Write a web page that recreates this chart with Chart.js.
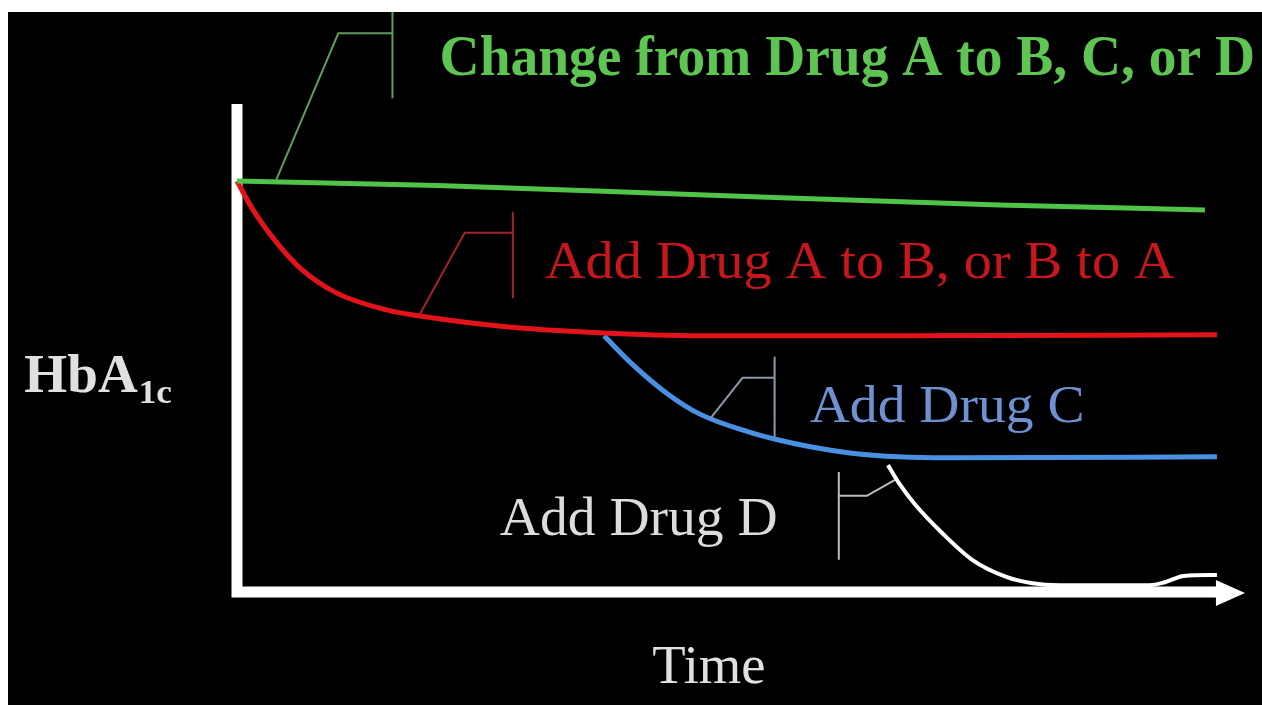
<!DOCTYPE html>
<html>
<head>
<meta charset="utf-8">
<script src="https://cdn.jsdelivr.net/npm/chart.js"></script>
<style>
  html, body { margin: 0; padding: 0; background: #fff; overflow: hidden; }
  #wrap { position: absolute; left: 8px; top: 12px; width: 1254px; height: 693px; background: #000; }
</style>
</head>
<body>
<div id="wrap"><canvas id="chart"></canvas></div>
<script>
// time runs 0..100 along the x axis, HbA1c 0..100 up the y axis (arbitrary units)
const changeTime = [0, 20, 46, 76, 96.5];
const changeHbA1c = [84.2, 83.3, 81.4, 79.3, 78.3];

const addABTime = [0, 1.6, 4.0, 6.5, 9.9, 14.9, 18.1, 26.1, 36.1, 46.1, 66.0, 97.7];
const addABHbA1c = [84.2, 78.3, 71.5, 66.0, 61.3, 57.8, 56.6, 54.5, 53.1, 52.5, 52.5, 52.7];

const addCTime = [36.6, 39.4, 42.8, 46.1, 51.0, 53.5, 57.3, 61.1, 66.0, 71.0, 97.7];
const addCHbA1c = [52.5, 46.7, 40.8, 36.5, 32.8, 31.4, 29.7, 28.5, 27.7, 27.5, 27.7];

const addDTime = [64.9, 66.0, 67.5, 70.3, 73.3, 76.7, 79.3, 82.0, 91.0, 92.5, 94.4, 97.7];
const addDHbA1c = [26.0, 22.3, 18.2, 12.1, 6.6, 3.1, 1.8, 1.4, 1.4, 2.0, 3.3, 3.5];

// callout brackets: diagonal, short horizontal, then the vertical bar
const changeLeaderTime = [3.9, 10.1, 15.5, 15.5, 15.5];
const changeLeaderHbA1c = [84.4, 114.5, 114.5, 118.9, 101.2];
const addABLeaderTime = [18.2, 22.7, 27.5, 27.5, 27.5];
const addABLeaderHbA1c = [56.8, 73.6, 73.6, 77.9, 60.2];
const addCLeaderTime = [47.2, 50.4, 53.6, 53.6, 53.6];
const addCLeaderHbA1c = [35.6, 43.9, 43.9, 48.2, 31.8];
const addDLeaderTime = [65.6, 62.8, 60.0, 60.0, 60.0];
const addDLeaderHbA1c = [23.0, 19.7, 19.7, 24.6, 6.6];

const seriesLabels = ['Change from Drug A to B, C, or D', 'Add Drug A to B, or B to A', 'Add Drug C', 'Add Drug D'];
const xTitle = 'Time';
const yTitle = 'HbA';
const ySub = '1c';

const SERIF = '"Liberation Serif", "Times New Roman", serif';

function pts(xs, ys) {
  return xs.map((x, i) => ({ x: x, y: ys[i] }));
}

function curve(label, xs, ys, color, width) {
  return {
    label: label,
    data: pts(xs, ys),
    borderColor: color,
    borderWidth: width,
    pointRadius: 0,
    cubicInterpolationMode: 'monotone',
    fill: false,
    clip: false
  };
}

function leader(xs, ys, color) {
  return {
    label: 'leader',
    data: pts(xs, ys),
    borderColor: color,
    borderWidth: 2,
    pointRadius: 0,
    tension: 0,
    fill: false,
    clip: false
  };
}

// text placed in axis units: left edge, right edge, baseline
const textMarks = [
  { text: seriesLabels[0], x0: 20.2, x1: 101.5, y: 106.0, font: 'bold 56px ' + SERIF, color: '#5ec553' },
  { text: seriesLabels[1], x0: 30.7, x1: 93.5, y: 64.3, font: '52px ' + SERIF, color: '#c8161d' },
  { text: seriesLabels[2], x0: 57.1, x1: 84.5, y: 34.8, font: '52px ' + SERIF, color: '#6f91d2' },
  { text: seriesLabels[3], x0: 26.2, x1: 53.9, y: 11.7, font: '54px ' + SERIF, color: '#dcdcdc' },
  { text: xTitle, x0: 41.4, x1: 52.7, y: -18.6, font: '55px ' + SERIF, color: '#e0e0e0' },
  { text: yTitle, x0: -21.2, x1: -9.9, y: 41.0, font: 'bold 54px ' + SERIF, color: '#e0e0e0' },
  { text: ySub, x0: -9.8, x1: -6.5, y: 38.7, font: 'bold 34px ' + SERIF, color: '#e0e0e0' }
];

const axesPlugin = {
  id: 'axes',
  beforeDatasetsDraw(chart) {
    const ctx = chart.ctx;
    const xs = chart.scales.x, ys = chart.scales.y;
    const x0 = xs.getPixelForValue(0);
    const y0 = ys.getPixelForValue(0);
    const yTop = ys.getPixelForValue(100);
    const xEnd = xs.getPixelForValue(97.8);
    const xTip = xs.getPixelForValue(100.5);
    ctx.save();
    ctx.strokeStyle = '#fff';
    ctx.fillStyle = '#fff';
    ctx.lineWidth = 11;
    ctx.lineCap = 'butt';
    ctx.beginPath();
    ctx.moveTo(x0, yTop);
    ctx.lineTo(x0, y0 + 5.5);
    ctx.moveTo(x0 - 5.5, y0);
    ctx.lineTo(xEnd, y0);
    ctx.stroke();
    ctx.beginPath();
    ctx.moveTo(xEnd - 2, y0 - 12);
    ctx.lineTo(xTip, y0 + 1);
    ctx.lineTo(xEnd - 2, y0 + 14);
    ctx.closePath();
    ctx.fill();
    ctx.restore();
  }
};

const textPlugin = {
  id: 'texts',
  afterDatasetsDraw(chart) {
    const ctx = chart.ctx;
    const xs = chart.scales.x, ys = chart.scales.y;
    textMarks.forEach(m => {
      const left = xs.getPixelForValue(m.x0);
      const right = xs.getPixelForValue(m.x1);
      const base = ys.getPixelForValue(m.y);
      ctx.save();
      ctx.font = m.font;
      ctx.fillStyle = m.color;
      ctx.textBaseline = 'alphabetic';
      ctx.textAlign = 'left';
      const w = ctx.measureText(m.text).width;
      ctx.translate(left, base);
      ctx.scale((right - left) / w, 1);
      ctx.fillText(m.text, 0, 0);
      ctx.restore();
    });
  }
};

new Chart(document.getElementById('chart'), {
  type: 'line',
  data: {
    datasets: [
      leader(changeLeaderTime, changeLeaderHbA1c, '#5e9e5c'),
      leader(addABLeaderTime, addABLeaderHbA1c, '#a2232b'),
      leader(addCLeaderTime, addCLeaderHbA1c, '#8b97a8'),
      leader(addDLeaderTime, addDLeaderHbA1c, '#bcbcbc'),
      curve(seriesLabels[0], changeTime, changeHbA1c, '#4fc449', 5),
      curve(seriesLabels[1], addABTime, addABHbA1c, '#e3121b', 5),
      curve(seriesLabels[2], addCTime, addCHbA1c, '#4a90e2', 5),
      curve(seriesLabels[3], addDTime, addDHbA1c, '#ffffff', 4)
    ]
  },
  options: {
    responsive: true,
    maintainAspectRatio: false,
    devicePixelRatio: 1,
    animation: false,
    layout: { padding: { left: 229, top: 92, right: 22, bottom: 113 } },
    scales: {
      x: { type: 'linear', min: 0, max: 100, display: false },
      y: { type: 'linear', min: 0, max: 100, display: false }
    },
    plugins: {
      legend: { display: false },
      tooltip: { enabled: false },
      title: { display: false }
    }
  },
  plugins: [axesPlugin, textPlugin]
});
</script>
</body>
</html>
